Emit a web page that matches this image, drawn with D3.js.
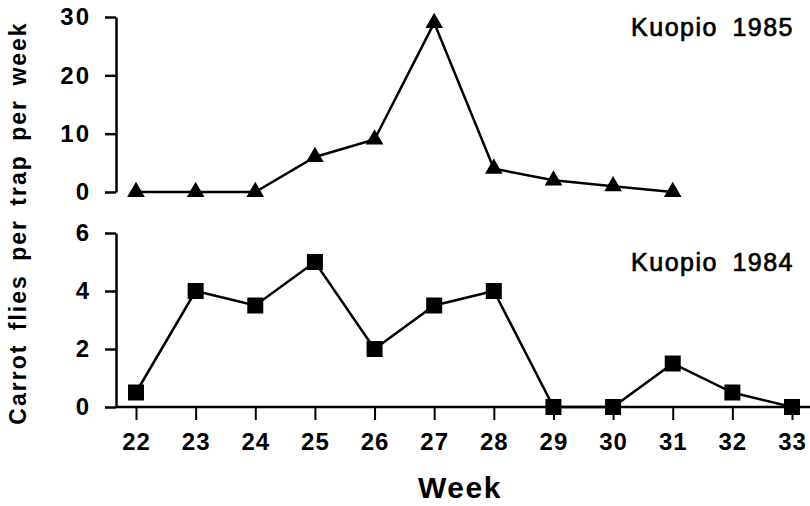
<!DOCTYPE html>
<html>
<head>
<meta charset="utf-8">
<script src="https://cdn.jsdelivr.net/npm/d3@7"></script>
<style>
  html, body { margin: 0; padding: 0; background: #fff; }
  svg { display: block; }
  text { font-family: "Liberation Sans", Arial, Helvetica, sans-serif; fill: #000; }
</style>
</head>
<body>
<svg id="chart" width="810" height="506"></svg>
<script>
// Weekly carrot fly catches, Kuopio
const weeks1985 = [22, 23, 24, 25, 26, 27, 28, 29, 30, 31];
const flies1985 = [0, 0, 0, 6, 9, 29, 4, 2, 1, 0];
const weeks1984 = [22, 23, 24, 25, 26, 27, 28, 29, 30, 31, 32, 33];
const flies1984 = [0.5, 4, 3.5, 5, 2, 3.5, 4, 0, 0, 1.5, 0.5, 0];
const xTicks = [22, 23, 24, 25, 26, 27, 28, 29, 30, 31, 32, 33];
const yTicks1985 = [0, 10, 20, 30];
const yTicks1984 = [0, 2, 4, 6];

const svg = d3.select("#chart");
const axisX = 116;

const x = d3.scaleLinear().domain([22, 33]).range([136, 792]);
const yTop = d3.scaleLinear().domain([0, 30]).range([192, 17]);
const yBot = d3.scaleLinear().domain([0, 6]).range([407, 233]);

function styleTickText(sel, spacing) {
  sel.attr("font-size", 24).attr("font-weight", "bold")
    .style("letter-spacing", spacing)
    .attr("font-family", "Liberation Sans, Arial, sans-serif");
}

function yAxis(scale, ticks) {
  const g = svg.append("g").attr("transform", `translate(${axisX},0)`);
  g.call(d3.axisLeft(scale).tickValues(ticks).tickFormat(d3.format("d"))
    .tickSize(11).tickPadding(14).tickSizeOuter(0));
  g.select(".domain").attr("stroke", "#000").attr("stroke-width", 2.5);
  g.selectAll(".tick line").attr("stroke", "#000").attr("stroke-width", 2.5);
  styleTickText(g.selectAll(".tick text"), "2px");
  return g;
}

yAxis(yTop, yTicks1985);
yAxis(yBot, yTicks1984);

// x axis along the bottom panel
const gx = svg.append("g").attr("transform", `translate(0,${yBot(0)})`);
gx.call(d3.axisBottom(x).tickValues(xTicks).tickFormat(d3.format("d"))
  .tickSize(13).tickPadding(13).tickSizeOuter(0));
gx.select(".domain").attr("d", `M${axisX},0H810`).attr("stroke", "#000").attr("stroke-width", 2.5);
gx.selectAll(".tick line").attr("stroke", "#000").attr("stroke-width", 2);
styleTickText(gx.selectAll(".tick text"), "1px");

function series(weeks, vals, yScale, symbolType, size) {
  const pts = weeks.map((w, i) => [w, vals[i]]);
  svg.append("path")
    .datum(pts)
    .attr("fill", "none")
    .attr("stroke", "#000")
    .attr("stroke-width", 2.5)
    .attr("d", d3.line().x(d => x(d[0])).y(d => yScale(d[1])));
  svg.append("g").selectAll("path")
    .data(pts)
    .join("path")
    .attr("transform", d => `translate(${x(d[0])},${yScale(d[1])})`)
    .attr("d", d3.symbol().type(symbolType).size(size))
    .attr("fill", "#000");
}

series(weeks1985, flies1985, yTop, d3.symbolTriangle, 135);
series(weeks1984, flies1984, yBot, d3.symbolSquare, 256);

// panel titles
function panelTitle(y, label) {
  svg.append("text")
    .attr("x", 794).attr("y", y)
    .attr("text-anchor", "end")
    .attr("font-size", 25)
    .attr("stroke", "#000").attr("stroke-width", 0.7)
    .style("letter-spacing", "1.5px")
    .style("word-spacing", "6px")
    .text(label);
}
panelTitle(36, "Kuopio 1985");
panelTitle(271, "Kuopio 1984");

// axis titles
svg.append("text")
  .attr("x", 460).attr("y", 498)
  .attr("text-anchor", "middle")
  .attr("font-size", 30).attr("font-weight", "bold")
  .style("letter-spacing", "1.5px")
  .text("Week");

svg.append("text")
  .attr("transform", "translate(26,223) rotate(-90)")
  .attr("text-anchor", "middle")
  .attr("font-size", 23).attr("font-weight", "bold")
  .style("letter-spacing", "2px")
  .style("word-spacing", "5px")
  .text("Carrot flies per trap per week");
</script>
</body>
</html>
